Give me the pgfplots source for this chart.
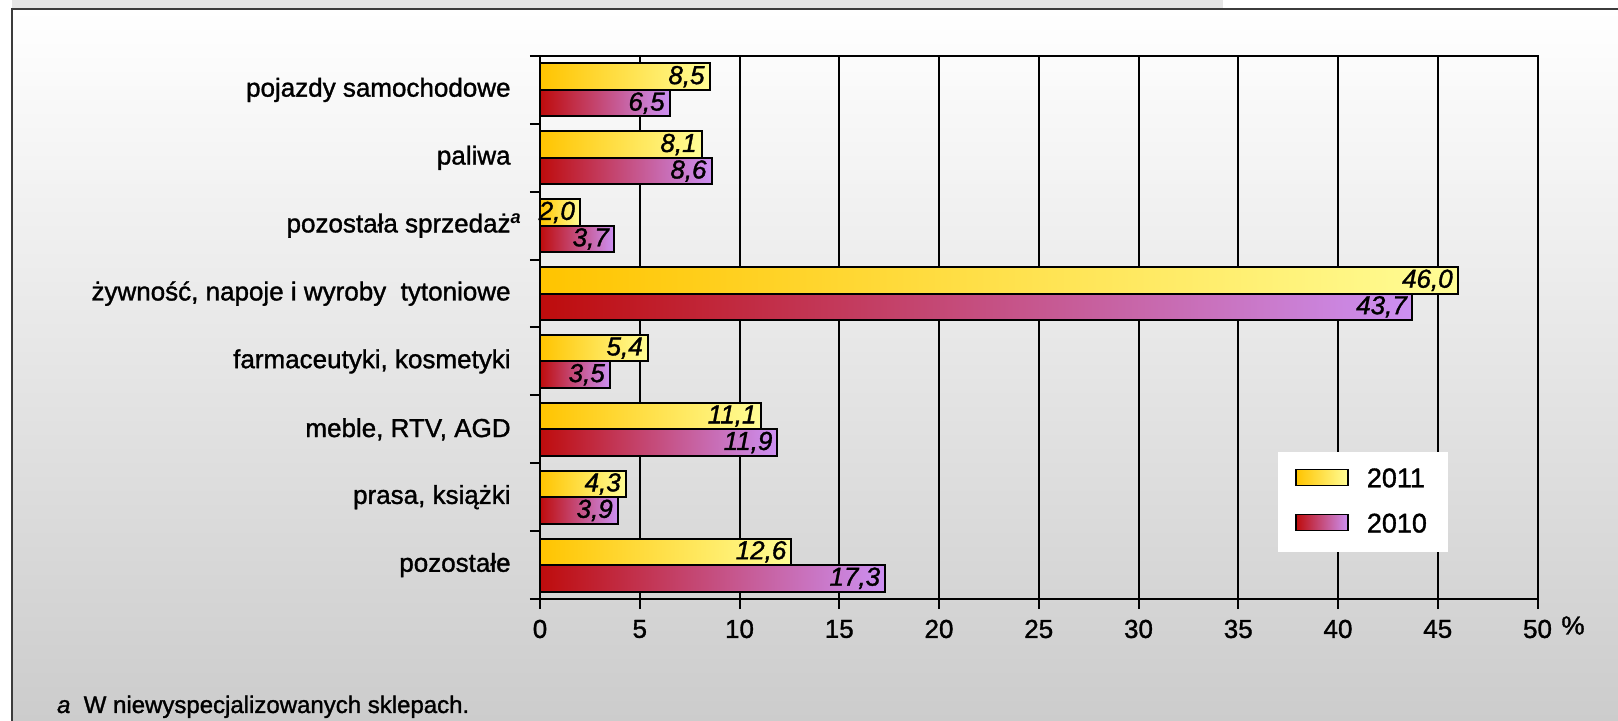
\documentclass[border=0pt]{standalone}
\usepackage{fontspec}
\setmainfont{Liberation Sans}[UprightFeatures={FakeBold=1.3}, ItalicFeatures={FakeBold=1.3}]
\usepackage{pgfplots}
\pgfplotsset{compat=1.18}

\definecolor{goldL}{RGB}{255,196,0}
\definecolor{goldR}{RGB}{255,253,150}
\definecolor{redL}{RGB}{190,12,12}
\definecolor{redM}{RGB}{196,82,122}
\definecolor{redR}{RGB}{204,144,242}
\definecolor{frameline}{RGB}{60,60,60}

% one \addplot per bar, so that every bar gets its own gradient
\pgfplotsset{
  gradleg/.style={legend image code/.code={%
    \draw[##1, line width=0.75pt] (0pt,-3pt) rectangle (26pt,5pt);}},
  y11/.style={draw=black, line width=1pt, left color=goldL, right color=goldR, bar shift=0pt, gradleg},
  y10/.style={draw=black, line width=1pt, left color=redL, middle color=redM, right color=redR, bar shift=0pt, gradleg},
}

\begin{document}
\begin{tikzpicture}
% page 1618 x 721 px, 1 px = 0.5pt
\useasboundingbox (0,0) rectangle (809pt,360.5pt);
\fill[white] (0,0) rectangle (809pt,360.5pt);
\fill[black!10] (6pt,356pt) rectangle (611.5pt,360.5pt);
\shade[top color=white, bottom color=black!20] (6pt,0) rectangle (809pt,356pt);
\draw[frameline, line width=0.75pt] (6pt,0) -- (6pt,356pt) -- (809pt,356pt);

\begin{axis}[
  at={(270pt,61pt)}, anchor=south west,
  scale only axis, width=498.75pt, height=271.5pt,
  xbar, bar width=0.39,
  xmin=0, xmax=50, ymin=-0.5, ymax=7.5,
  xtick={0,5,...,50},
  xtick pos=bottom, ytick pos=left,
  ytick={-0.5,0.5,...,7.5}, yticklabels={},
  extra y ticks={0,1,...,7},
  extra y tick labels={pozostałe,{prasa, książki\ },{meble, RTV, AGD},{farmaceutyki, kosmetyki\ },{żywność, napoje i wyroby\ \ tytoniowe},{pozostała sprzedaż\rlap{\textsuperscript{\textbf{\textit{a}}}}},{paliwa\ },pojazdy samochodowe},
  extra y tick style={major tick length=0pt, grid=none,
    yticklabel style={anchor=east, inner sep=0pt, xshift=-14.5pt, font=\fontsize{13}{15}\selectfont}},
  xmajorgrids, grid style={black, line width=1pt},
  axis line style={black, line width=1pt},
  tick style={black, line width=1pt},
  tick align=outside, major tick length=5pt,
  /pgf/number format/assume math mode=true,
  xticklabel style={font=\fontsize{13}{15}\selectfont, anchor=center, yshift=-10pt},
  nodes near coords, point meta=explicit symbolic,
  every node near coord/.append style={anchor=east, inner sep=0pt, xshift=-2pt,
    text=black, font=\fontsize{13}{15}\selectfont\itshape},
  legend style={at={(0.7398,0.2707)}, anchor=north west, draw=none, fill=white,
    inner xsep=8.5pt, inner ysep=6pt, row sep=7.7pt,
    font=\fontsize{13.5}{15}\selectfont,
    /tikz/every odd column/.append style={column sep=7pt}},
  legend cell align=left,
  clip=false,
]
% 2011
\addplot[y11] coordinates {(8.5,7.195) [8,5]};
\addlegendentry{2011}
% 2010
\addplot[y10] coordinates {(6.5,6.805) [6,5]};
\addlegendentry{2010}

\addplot[y11, forget plot] coordinates {(8.1,6.195) [8,1]};
\addplot[y11, forget plot] coordinates {(2.0,5.195) [2,0]};
\addplot[y11, forget plot] coordinates {(46.0,4.195) [46,0]};
\addplot[y11, forget plot] coordinates {(5.4,3.195) [5,4]};
\addplot[y11, forget plot] coordinates {(11.1,2.195) [11,1]};
\addplot[y11, forget plot] coordinates {(4.3,1.195) [4,3]};
\addplot[y11, forget plot] coordinates {(12.6,0.195) [12,6]};

\addplot[y10, forget plot] coordinates {(8.6,5.805) [8,6]};
\addplot[y10, forget plot] coordinates {(3.7,4.805) [3,7]};
\addplot[y10, forget plot] coordinates {(43.7,3.805) [43,7]};
\addplot[y10, forget plot] coordinates {(3.5,2.805) [3,5]};
\addplot[y10, forget plot] coordinates {(11.9,1.805) [11,9]};
\addplot[y10, forget plot] coordinates {(3.9,0.805) [3,9]};
\addplot[y10, forget plot] coordinates {(17.3,-0.195) [17,3]};

\node[font=\fontsize{13}{15}\selectfont] at (rel axis cs:1.0356,0) [yshift=-13.25pt] {\%};
\end{axis}

\node[anchor=base west, font=\fontsize{12}{14}\selectfont] at (25pt,4pt)
  {\textit{a}\ \ W niewyspecjalizowanych sklepach.};
\end{tikzpicture}
\end{document}
